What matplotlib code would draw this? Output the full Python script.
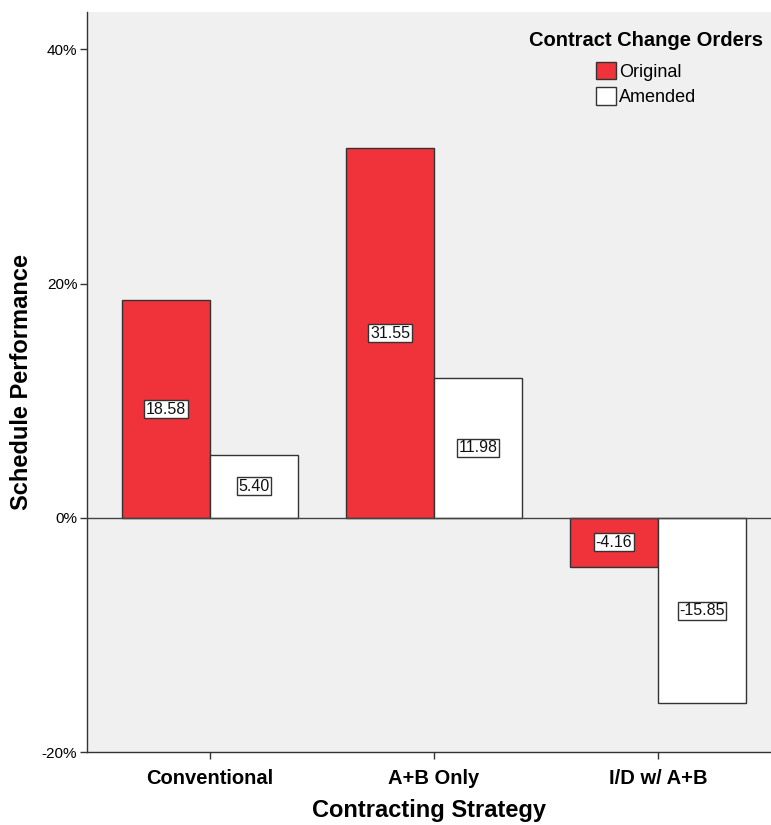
import matplotlib
matplotlib.use("Agg")
import matplotlib.pyplot as plt
import numpy as np

categories = ["Conventional", "A+B Only", "I/D w/ A+B"]
series_names = ["Original", "Amended"]
original = [18.58, 31.55, -4.16]
amended = [5.40, 11.98, -15.85]
yticks = [-20, 0, 20, 40]
ytick_labels = ["-20%", "0%", "20%", "40%"]

plt.rcParams['font.family'] = ['Liberation Sans', 'DejaVu Sans']

fig = plt.figure(figsize=(7.71, 8.25), dpi=100)
ax = fig.add_axes([87/771, 1-752/825, 1-87/771, (752-12)/825])
ax.set_facecolor("#F0F0F0")

x = np.arange(len(categories))
w = 0.393
colors = ["#F0323A", "#FFFFFF"]
for i, (vals, name, c) in enumerate(zip([original, amended], series_names, colors)):
    xs = x + (i - 0.5) * w
    bars = ax.bar(xs, vals, width=w, color=c, edgecolor="#333333", linewidth=1.0, label=name, zorder=3)
    for b, v in zip(bars, vals):
        ax.text(b.get_x() + b.get_width()/2, v/2, f"{v:.2f}", ha="center", va="center",
                fontsize=11.5, color="#111111", zorder=5,
                bbox=dict(boxstyle="square,pad=0.1", fc="white", ec="#333333", lw=1.0))

ax.axhline(0, color="#444444", lw=1.0, zorder=4)
ax.set_xlim(-0.549, 2.504)
ax.set_ylim(-20, 43.2)
ax.set_yticks(yticks)
ax.set_yticklabels(ytick_labels, fontsize=11)
ax.set_xticks(x)
ax.set_xticklabels(categories, fontsize=14.5, fontweight="bold")
ax.tick_params(axis="y", length=5, width=1, color="#333333", pad=2)
ax.tick_params(axis="x", length=5, width=1, color="#333333", pad=7)
for s in ["top", "right"]:
    ax.spines[s].set_visible(False)
for s in ["left", "bottom"]:
    ax.spines[s].set_color("#333333")
    ax.spines[s].set_linewidth(1.0)

ax.set_ylabel("Schedule Performance", fontsize=17, fontweight="bold")
ax.yaxis.set_label_coords((33 - 87) / 684, 0.5)
ax.set_xlabel("Contracting Strategy", fontsize=17, fontweight="bold", labelpad=8)

leg = ax.legend(title="Contract Change Orders", loc="upper right", frameon=False,
                fontsize=13, title_fontproperties={"weight": "bold", "size": 14.5},
                handlelength=1.1, handleheight=1.1, handletextpad=0.15, labelspacing=0.35,
                borderaxespad=0.3, bbox_to_anchor=(1.007, 0.992))
leg._legend_box.align = "center"
leg._legend_box.sep = 9

fig.savefig("out.png", dpi=100, facecolor="white")
